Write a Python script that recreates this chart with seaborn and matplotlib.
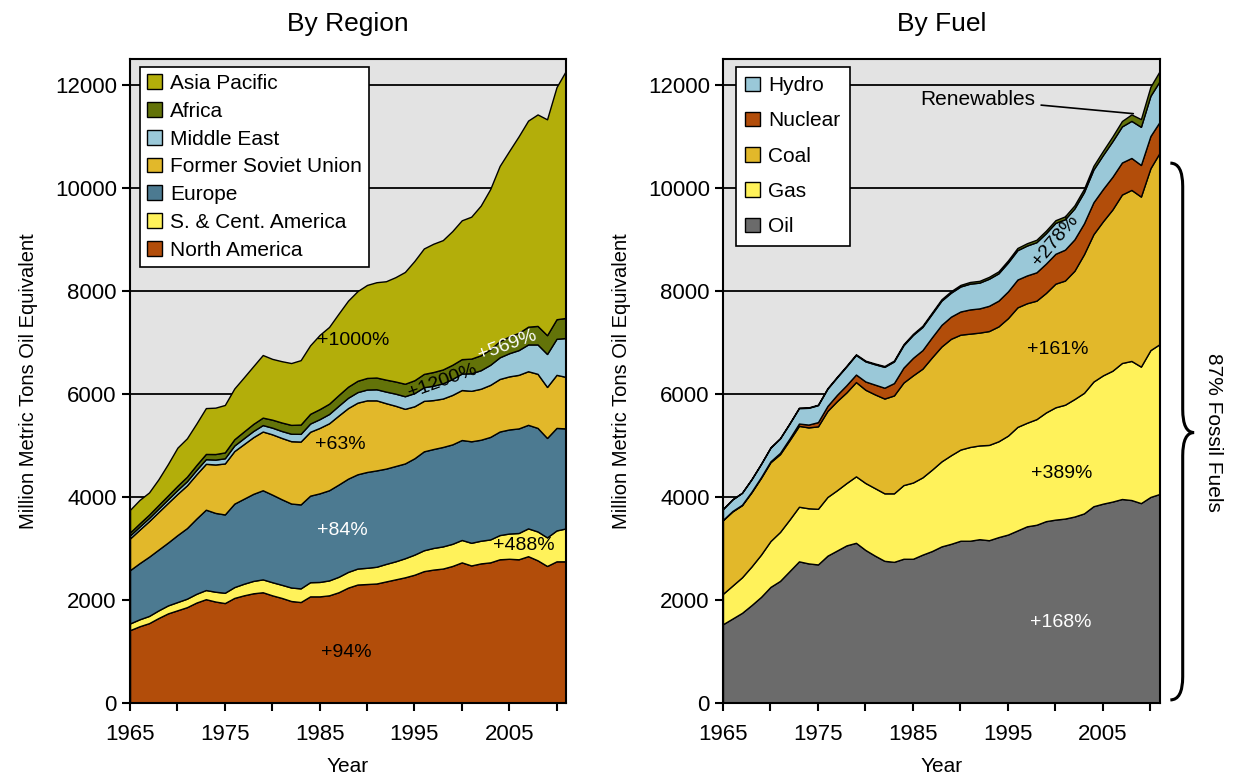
import matplotlib
matplotlib.use("Agg")
import numpy as np
import pandas as pd
import matplotlib.pyplot as plt
import seaborn as sns
from matplotlib.path import Path
from matplotlib.patches import PathPatch, Patch
from matplotlib.ticker import MultipleLocator

years = list(range(1965, 2012))

# ---- By Region (Mtoe) ----
north_america = [1415, 1490, 1550, 1650, 1740, 1800, 1860, 1950, 2015, 1970, 1940, 2040, 2090, 2130, 2150, 2090,
                 2040, 1980, 1960, 2070, 2070, 2090, 2150, 2240, 2300, 2310, 2320, 2360, 2400, 2440, 2490, 2560,
                 2590, 2610, 2660, 2730, 2670, 2710, 2730, 2790, 2800, 2790, 2850, 2770, 2660, 2750, 2750]
sc_america = [130, 135, 140, 148, 155, 160, 165, 170, 178, 190, 200, 210, 225, 240, 250, 255,
              255, 262, 265, 275, 280, 290, 300, 305, 310, 315, 325, 340, 350, 370, 390, 405,
              420, 430, 430, 435, 440, 440, 445, 470, 490, 510, 540, 560, 555, 600, 640]
europe = [1035, 1090, 1150, 1180, 1220, 1300, 1370, 1460, 1560, 1530, 1520, 1620, 1650, 1690, 1730, 1700,
          1660, 1630, 1630, 1680, 1720, 1750, 1790, 1810, 1830, 1860, 1870, 1850, 1850, 1840, 1870, 1920,
          1920, 1930, 1930, 1940, 1970, 1960, 1990, 2010, 2020, 2030, 2010, 2010, 1930, 1990, 1940]
former_soviet = [615, 650, 690, 730, 770, 800, 830, 860, 890, 940, 990, 1020, 1060, 1100, 1140, 1170,
                 1190, 1210, 1220, 1240, 1270, 1300, 1340, 1370, 1390, 1390, 1360, 1270, 1170, 1060, 1010, 980,
                 950, 940, 960, 970, 980, 990, 1010, 1020, 1030, 1040, 1040, 1050, 990, 1030, 1000]
middle_east = [58, 60, 62, 66, 70, 75, 80, 85, 90, 95, 100, 108, 115, 120, 125, 130,
               135, 145, 150, 160, 170, 180, 190, 200, 205, 210, 215, 225, 235, 245, 255, 265,
               280, 295, 310, 320, 340, 360, 390, 420, 450, 480, 520, 570, 640, 700, 755]
africa = [58, 62, 65, 70, 75, 82, 88, 95, 102, 108, 115, 122, 130, 138, 145, 155,
          165, 172, 180, 188, 195, 200, 208, 215, 220, 225, 228, 232, 236, 242, 250, 258,
          265, 270, 275, 280, 285, 290, 300, 315, 325, 335, 345, 360, 365, 380, 390]
asia_pacific = [440, 455, 430, 500, 610, 740, 745, 805, 890, 900, 920, 985, 1050, 1120, 1215, 1180,
                1190, 1200, 1250, 1330, 1440, 1490, 1580, 1670, 1740, 1805, 1850, 1910, 2025, 2170, 2315, 2435,
                2490, 2510, 2595, 2695, 2755, 2905, 3110, 3400, 3600, 3815, 4000, 4105, 4190, 4505, 4800]

region_names = ["North America", "S. & Cent. America", "Europe", "Former Soviet Union",
                "Middle East", "Africa", "Asia Pacific"]
region_colors = ["#B24D0A", "#FFF25A", "#4C7A91", "#E2B82A", "#9AC8D8", "#637309", "#B3AE0A"]

# ---- By Fuel (Mtoe) ----
oil = [1530, 1640, 1750, 1900, 2060, 2254, 2370, 2560, 2750, 2710, 2690, 2860, 2960, 3060, 3110, 2970,
       2860, 2760, 2740, 2800, 2800, 2880, 2950, 3040, 3090, 3150, 3150, 3180, 3160, 3220, 3270, 3350,
       3430, 3460, 3530, 3560, 3580, 3620, 3680, 3820, 3870, 3910, 3960, 3940, 3880, 4000, 4060]
gas = [590, 640, 690, 750, 820, 890, 950, 1000, 1060, 1070, 1080, 1140, 1170, 1210, 1290, 1300,
       1310, 1310, 1330, 1430, 1480, 1500, 1580, 1650, 1720, 1770, 1820, 1820, 1850, 1860, 1920, 2010,
       2010, 2050, 2110, 2180, 2210, 2280, 2340, 2420, 2490, 2540, 2640, 2700, 2650, 2850, 2910]
coal = [1430, 1440, 1400, 1440, 1490, 1530, 1510, 1540, 1570, 1570, 1600, 1670, 1730, 1760, 1830, 1810,
        1820, 1840, 1900, 1990, 2080, 2110, 2180, 2230, 2260, 2230, 2200, 2190, 2210, 2230, 2280, 2320,
        2320, 2300, 2320, 2400, 2410, 2490, 2690, 2860, 2990, 3130, 3270, 3320, 3300, 3530, 3720]
nuclear = [6, 8, 9, 12, 14, 18, 25, 33, 45, 55, 82, 97, 122, 140, 146, 161,
           190, 210, 240, 290, 340, 360, 390, 420, 430, 450, 470, 470, 490, 500, 520, 540,
           540, 550, 570, 580, 600, 610, 600, 620, 627, 635, 622, 620, 614, 626, 600]
hydro = [210, 225, 230, 240, 255, 265, 280, 290, 300, 325, 330, 335, 340, 365, 380, 390,
         395, 405, 420, 435, 445, 450, 455, 470, 465, 485, 500, 500, 525, 530, 560, 570,
         580, 585, 590, 600, 590, 600, 605, 635, 660, 690, 700, 720, 740, 780, 790]
renewables = [2, 2, 3, 3, 4, 5, 5, 6, 7, 8, 9, 10, 11, 12, 13, 14,
              15, 16, 17, 19, 21, 23, 25, 27, 29, 31, 33, 35, 37, 39, 41, 43,
              45, 47, 49, 52, 56, 60, 65, 72, 80, 92, 105, 125, 150, 175, 195]

fuel_names = ["Oil", "Gas", "Coal", "Nuclear", "Hydro", "Renewables"]
fuel_colors = ["#6B6B6B", "#FFF25A", "#E2B82A", "#B24D0A", "#9AC8D8", "#637309"]

regions = pd.DataFrame({"North America": north_america, "S. & Cent. America": sc_america,
                        "Europe": europe, "Former Soviet Union": former_soviet,
                        "Middle East": middle_east, "Africa": africa,
                        "Asia Pacific": asia_pacific}, index=years)
fuels = pd.DataFrame({"Oil": oil, "Gas": gas, "Coal": coal, "Nuclear": nuclear,
                      "Hydro": hydro, "Renewables": renewables}, index=years)

sns.set_style("white")
plt.rcParams['font.family'] = ['Liberation Sans', 'DejaVu Sans']
plt.rcParams.update({"text.color": "black", "axes.labelcolor": "black",
                     "xtick.color": "black", "ytick.color": "black"})

fig = plt.figure(figsize=(12.35, 7.8), dpi=100)
ax1 = fig.add_axes([0.1053, 0.0987, 0.3530, 0.8256])
ax2 = fig.add_axes([0.5854, 0.0987, 0.3538, 0.8256])


def style_axes(ax, title):
    ax.set_facecolor("#E3E3E3")
    ax.set_xlim(1965, 2011)
    ax.set_ylim(0, 12500)
    ax.set_xticks(range(1965, 2012, 10))
    ax.set_xticks(range(1970, 2012, 10), minor=True)
    ax.yaxis.set_major_locator(MultipleLocator(2000))
    ax.tick_params(axis="both", which="both", direction="out", length=6, width=1.5,
                   labelsize=16, color="black", bottom=True, left=True)
    ax.tick_params(axis="x", pad=9)
    for v in range(2000, 12001, 2000):
        ax.axhline(v, color="black", lw=1.3, zorder=0.5)
    for s in ax.spines.values():
        s.set_color("black")
        s.set_linewidth(1.5)
    ax.set_title(title, fontsize=19, pad=20)
    ax.set_xlabel("Year", fontsize=15, labelpad=9)
    ax.set_ylabel("Million Metric Tons Oil Equivalent", fontsize=14.5, labelpad=12)


# left: by region
style_axes(ax1, "By Region")
ax1.stackplot(regions.index, regions[region_names].T.values, colors=region_colors,
              edgecolor="black", linewidth=1.0, zorder=2)
handles = [Patch(facecolor=c, edgecolor="black", label=n) for n, c in zip(region_names, region_colors)][::-1]
leg = ax1.legend(handles=handles, loc="upper left", bbox_to_anchor=(0.022, 0.988), fontsize=15,
                 frameon=True, fancybox=False, edgecolor="black", framealpha=1,
                 handlelength=0.7, handleheight=0.7, handletextpad=0.4, labelspacing=0.42,
                 borderpad=0.35, borderaxespad=0)
leg.get_frame().set_linewidth(1.2)
leg.set_zorder(5)

ax1.text(1988.5, 7030, "+1000%", fontsize=14, ha="center", va="center", zorder=4)
ax1.text(2004.8, 6950, "+569%", fontsize=14, ha="center", va="center", color="white", rotation=20, zorder=4)
ax1.text(1998.0, 6250, "+1200%", fontsize=14, ha="center", va="center", rotation=20, zorder=4)
ax1.text(1987.2, 5020, "+63%", fontsize=14, ha="center", va="center", zorder=4)
ax1.text(1987.4, 3350, "+84%", fontsize=14, ha="center", va="center", color="white", zorder=4)
ax1.text(2006.6, 3060, "+488%", fontsize=14, ha="center", va="center", zorder=4)
ax1.text(1987.8, 990, "+94%", fontsize=14, ha="center", va="center", zorder=4)

# right: by fuel
style_axes(ax2, "By Fuel")
ax2.stackplot(fuels.index, fuels[fuel_names].T.values, colors=fuel_colors,
              edgecolor="black", linewidth=1.0, zorder=2)
fuel_leg = ["Hydro", "Nuclear", "Coal", "Gas", "Oil"]
handles = [Patch(facecolor=fuel_colors[fuel_names.index(n)], edgecolor="black", label=n) for n in fuel_leg]
leg = ax2.legend(handles=handles, loc="upper left", bbox_to_anchor=(0.03, 0.988), fontsize=15,
                 frameon=True, fancybox=False, edgecolor="black", framealpha=1,
                 handlelength=0.7, handleheight=0.7, handletextpad=0.4, labelspacing=0.78,
                 borderpad=0.45, borderaxespad=0)
leg.get_frame().set_linewidth(1.2)
leg.set_zorder(5)

ax2.annotate("Renewables", xy=(2008.2, 11440), xytext=(1991.8, 11720), fontsize=15,
             ha="center", va="center", zorder=4,
             arrowprops=dict(arrowstyle="-", color="black", lw=1.2, shrinkA=2, shrinkB=0))
ax2.text(2000.0, 8970, "+278%", fontsize=14, ha="center", va="center", rotation=50, zorder=4)
ax2.text(2000.2, 6860, "+161%", fontsize=14, ha="center", va="center", zorder=4)
ax2.text(2000.7, 4460, "+389%", fontsize=14, ha="center", va="center", zorder=4)
ax2.text(2000.6, 1570, "+168%", fontsize=14, ha="center", va="center", color="white", zorder=4)

# curly brace for fossil fuels
x0, x1, x2 = 2012.1, 2013.4, 2014.6
ytop, ymid, ybot, d = 10480, 5250, 60, 450
verts = [(x0, ytop), (x1, ytop), (x1, ytop - d), (x1, ymid + d), (x1, ymid), (x2, ymid),
         (x1, ymid), (x1, ymid - d), (x1, ybot + d), (x1, ybot), (x0, ybot)]
codes = [Path.MOVETO, Path.CURVE3, Path.CURVE3, Path.LINETO, Path.CURVE3, Path.CURVE3,
         Path.CURVE3, Path.CURVE3, Path.LINETO, Path.CURVE3, Path.CURVE3]
brace = PathPatch(Path(verts, codes), facecolor="none", edgecolor="black", lw=2.2, clip_on=False)
ax2.add_patch(brace)
ax2.text(2016.6, ymid, "87% Fossil Fuels", fontsize=15, rotation=270, ha="center", va="center")

fig.savefig("out.png", dpi=100)
